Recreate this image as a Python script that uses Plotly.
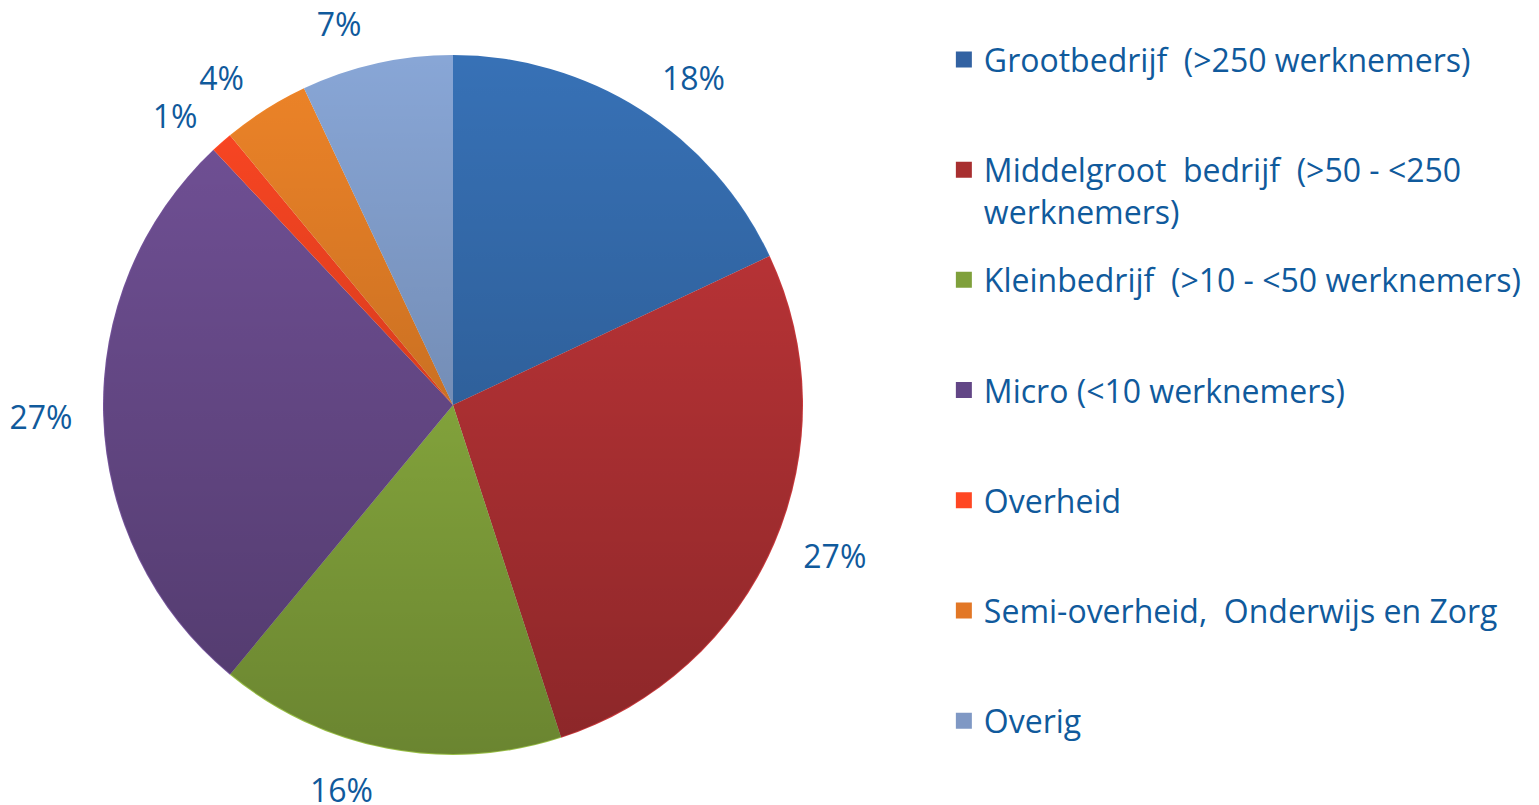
import base64
import plotly.graph_objects as go

categories = [
    "Grootbedrijf\u00a0\u00a0(>250 werknemers)",
    "Middelgroot\u00a0\u00a0bedrijf\u00a0\u00a0(>50 - <250<br>werknemers)",
    "Kleinbedrijf\u00a0\u00a0(>10 - <50 werknemers)",
    "Micro (<10 werknemers)",
    "Overheid",
    "Semi-overheid,\u00a0\u00a0Onderwijs en Zorg",
    "Overig",
]
values = [18, 27, 16, 27, 1, 4, 7]
colors = ["#3771B6", "#C7373A", "#98BE45", "#735299", "#FF4723", "#EE8428", "#88A6D6"]
legend_colors = ["#3262A2", "#A82F30", "#7FA03B", "#624686", "#FF4723", "#E27726", "#7F98C4"]

TEXT_COLOR = "#105A9C"
FONT = "Open Sans"
W, H = 1539, 805

# pie box in pixels (left, top, size) -> paper domain
PIE_L, PIE_T, PIE_S = 95, 47, 700
LBL_PAD = 20


def dom(l, t, s):
    return dict(x=[l / W, (l + s) / W], y=[1 - (t + s) / H, 1 - t / H])


fig = go.Figure()

# transparent, slightly larger pies that only carry the outside percentage labels
# (the tiny slice gets its own label trace so the two small labels are not pushed apart)
small = [v < 2 for v in values]
for pos_small in (False, True):
    fig.add_trace(
        go.Pie(
            labels=categories,
            values=values,
            sort=False,
            direction="clockwise",
            rotation=0,
            marker=dict(colors=["rgba(0,0,0,0)"] * len(values), line=dict(width=0)),
            textposition=["outside" if s == pos_small else "none" for s in small],
            texttemplate="%{percent:.0%}",
            outsidetextfont=dict(color=TEXT_COLOR, size=32, family=FONT),
            hoverinfo="skip",
            showlegend=False,
            domain=dom(PIE_L - LBL_PAD, PIE_T - LBL_PAD, PIE_S + 2 * LBL_PAD),
        )
    )

fig.add_trace(
    go.Pie(
        labels=categories,
        values=values,
        sort=False,
        direction="clockwise",
        rotation=0,
        marker=dict(colors=colors, line=dict(width=0)),
        textinfo="none",
        hoverinfo="label+percent",
        showlegend=False,
        domain=dom(PIE_L, PIE_T, PIE_S),
    )
)

# legend entries (one group each so that the gap keeps them evenly spaced)
for i, (c, col) in enumerate(zip(categories, legend_colors)):
    n = c.count("<br>") + 1
    fig.add_trace(
        go.Scatter(
            x=[None],
            y=[None],
            mode="markers",
            name=c + "<br> " * (2 - n),
            marker=dict(symbol="square", size=16, color=col),
            legendgroup=str(i),
            showlegend=True,
        )
    )

# soft vertical shading like the original (lighter top, darker bottom)
svg = (
    '<svg xmlns="http://www.w3.org/2000/svg" width="700" height="700" viewBox="0 0 700 700">'
    '<defs><linearGradient id="g" x1="0" y1="0" x2="0" y2="1">'
    '<stop offset="0" stop-color="#000" stop-opacity="0"/>'
    '<stop offset="1" stop-color="#000" stop-opacity="0.3"/>'
    '</linearGradient></defs>'
    '<circle cx="350" cy="350" r="349" fill="url(#g)"/></svg>'
)
src = "data:image/svg+xml;base64," + base64.b64encode(svg.encode()).decode()
d = dom(PIE_L, PIE_T, PIE_S)

fig.update_layout(
    width=W,
    height=H,
    margin=dict(l=0, r=0, t=0, b=0, autoexpand=False),
    paper_bgcolor="white",
    plot_bgcolor="white",
    font=dict(family=FONT, color=TEXT_COLOR, size=30),
    xaxis=dict(visible=False),
    yaxis=dict(visible=False),
    showlegend=True,
    images=[
        dict(
            source=src,
            xref="paper",
            yref="paper",
            x=d["x"][0],
            y=d["y"][1],
            sizex=d["x"][1] - d["x"][0],
            sizey=d["y"][1] - d["y"][0],
            xanchor="left",
            yanchor="top",
            sizing="stretch",
            layer="above",
        )
    ],
    legend=dict(
        x=0.6081,
        xanchor="left",
        y=0.970,
        yanchor="top",
        valign="top",
        tracegroupgap=24,
        font=dict(size=32, color=TEXT_COLOR, family=FONT),
        itemwidth=30,
        bgcolor="rgba(0,0,0,0)",
    ),
)

fig.write_html("out.html")
